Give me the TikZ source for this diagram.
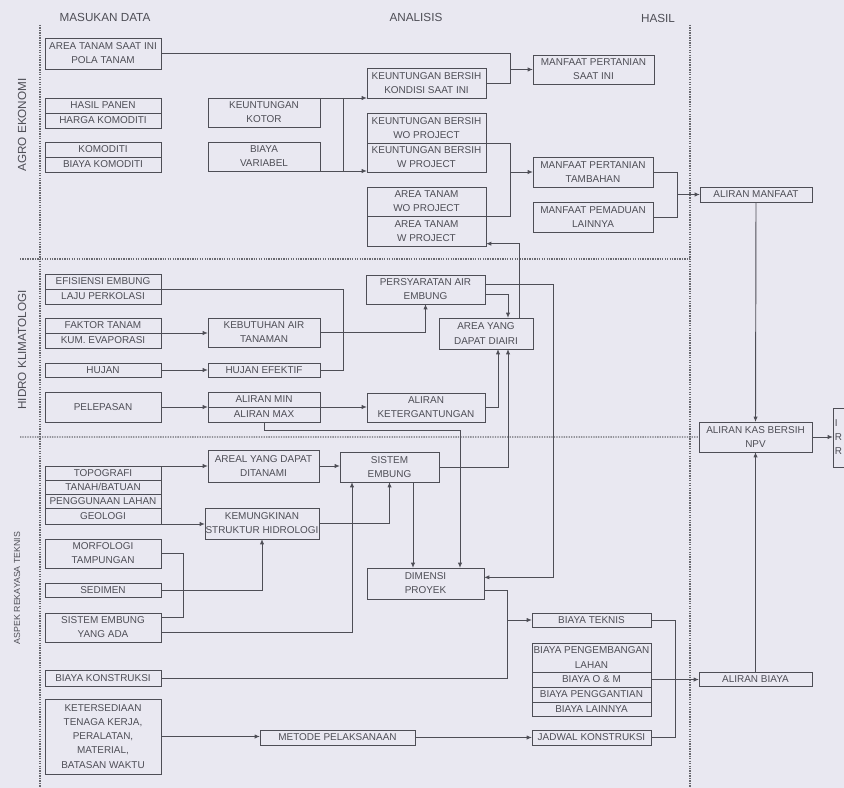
\documentclass[tikz,border=0pt]{standalone}
\usepackage{fontspec}
\setmainfont{Liberation Sans}
\usetikzlibrary{arrows.meta,positioning}
\definecolor{paper}{RGB}{233,232,241}
\definecolor{ink}{RGB}{78,78,86}
\tikzstyle{databox}=[draw=ink, text=ink, inner sep=0pt, outer sep=0pt, anchor=north west, align=center, font=\fontsize{8.5}{12}\selectfont]
\tikzstyle{flow}=[-{Latex[length=4.5pt,width=3.6pt]}]
\tikzstyle{zone}=[draw=ink!85, densely dotted, line width=1.1pt]
\tikzstyle{headtext}=[text=ink, font=\fontsize{10}{12}\selectfont]
\tikzstyle{sidetext}=[text=ink, rotate=90, font=\fontsize{10}{12}\selectfont]

\begin{document}
\begin{tikzpicture}[x=0.03cm, y=-0.03cm, line width=0.8pt, color=ink]
\clip (0,0) rectangle (844,788);
\fill[paper] (0,0) rectangle (844,788);

\node[headtext] (hdata) at (105,17) {MASUKAN DATA};
\node[headtext] (hanalisis) at (416,17) {ANALISIS};
\node[headtext] (hhasil) at (658,18) {HASIL};
\node[sidetext] (sagro) at (22,125) {AGRO EKONOMI};
\node[sidetext] (shidro) at (22,350) {HIDRO KLIMATOLOGI};
\node[sidetext, font=\fontsize{7.5}{9}\selectfont] (steknis) at (17,588) {ASPEK REKAYASA TEKNIS};

\node[databox, minimum width=3.48cm, minimum height=0.93cm] (areasaat) at (45,38) {AREA TANAM SAAT INI\\POLA TANAM};
\node[databox, minimum width=3.48cm, minimum height=0.45cm] (hasilpanen) at (45,98) {HASIL PANEN};
\node[databox, minimum width=3.48cm, minimum height=0.45cm, below=0pt of hasilpanen] (hargakom) {HARGA KOMODITI};
\node[databox, minimum width=3.48cm, minimum height=0.45cm] (komoditi) at (45,142) {KOMODITI};
\node[databox, minimum width=3.48cm, minimum height=0.45cm, below=0pt of komoditi] (biayakom) {BIAYA KOMODITI};
\node[databox, minimum width=3.36cm, minimum height=0.87cm] (kotor) at (208,98) {KEUNTUNGAN\\KOTOR};
\node[databox, minimum width=3.36cm, minimum height=0.87cm] (variabel) at (208,142) {BIAYA\\VARIABEL};
\node[databox, minimum width=3.57cm, minimum height=0.9cm] (kbsaat) at (367,68) {KEUNTUNGAN BERSIH\\KONDISI SAAT INI};
\node[databox, minimum width=3.57cm, minimum height=0.9cm] (kbwo) at (367,113) {KEUNTUNGAN BERSIH\\WO PROJECT};
\node[databox, minimum width=3.57cm, minimum height=0.87cm, below=0pt of kbwo] (kbw) {KEUNTUNGAN BERSIH\\W PROJECT};
\node[databox, minimum width=3.57cm, minimum height=0.87cm] (atwo) at (367,187) {AREA TANAM\\WO PROJECT};
\node[databox, minimum width=3.57cm, minimum height=0.9cm, below=0pt of atwo] (atw) {AREA TANAM\\W PROJECT};
\node[databox, minimum width=3.63cm, minimum height=0.87cm] (mpsaat) at (533,55) {MANFAAT PERTANIAN\\SAAT INI};
\node[databox, minimum width=3.6cm, minimum height=0.9cm] (mptambah) at (533,157) {MANFAAT PERTANIAN\\TAMBAHAN};
\node[databox, minimum width=3.6cm, minimum height=0.9cm] (mplain) at (533,202) {MANFAAT PEMADUAN\\LAINNYA};
\node[databox, minimum width=3.36cm, minimum height=0.45cm] (alman) at (700,187) {ALIRAN MANFAAT};

\node[databox, minimum width=3.48cm, minimum height=0.45cm] (efisiensi) at (45,274) {EFISIENSI EMBUNG};
\node[databox, minimum width=3.48cm, minimum height=0.45cm, below=0pt of efisiensi] (perkolasi) {LAJU PERKOLASI};
\node[databox, minimum width=3.48cm, minimum height=0.45cm] (faktor) at (45,318) {FAKTOR TANAM};
\node[databox, minimum width=3.48cm, minimum height=0.45cm, below=0pt of faktor] (evaporasi) {KUM. EVAPORASI};
\node[databox, minimum width=3.48cm, minimum height=0.42cm] (hujan) at (45,363) {HUJAN};
\node[databox, minimum width=3.48cm, minimum height=0.9cm] (pelepasan) at (45,392) {PELEPASAN};
\node[databox, minimum width=3.36cm, minimum height=0.87cm] (kebutuhan) at (208,318) {KEBUTUHAN AIR\\TANAMAN};
\node[databox, minimum width=3.36cm, minimum height=0.42cm] (hujanef) at (208,363) {HUJAN EFEKTIF};
\node[databox, minimum width=3.36cm, minimum height=0.45cm] (alirmin) at (208,392) {ALIRAN MIN};
\node[databox, minimum width=3.36cm, minimum height=0.45cm, below=0pt of alirmin] (alirmax) {ALIRAN MAX};
\node[databox, minimum width=3.57cm, minimum height=0.87cm] (persyaratan) at (366,275) {PERSYARATAN AIR\\EMBUNG};
\node[databox, minimum width=2.82cm, minimum height=0.93cm] (diairi) at (439,318) {AREA YANG\\DAPAT DIAIRI};
\node[databox, minimum width=3.54cm, minimum height=0.87cm] (ketergantungan) at (367,393) {ALIRAN\\KETERGANTUNGAN};
\node[databox, minimum width=3.39cm, minimum height=0.9cm] (alkas) at (699,422) {ALIRAN KAS BERSIH\\NPV};
\node[databox, align=left, text width=1.5cm, inner xsep=1.5pt, minimum height=1.77cm] (npv) at (833,408) {I\\R\\R};

\node[databox, minimum width=3.48cm, minimum height=0.42cm] (topografi) at (45,466) {TOPOGRAFI};
\node[databox, minimum width=3.48cm, minimum height=0.42cm, below=0pt of topografi] (tanah) {TANAH/BATUAN};
\node[databox, minimum width=3.48cm, minimum height=0.42cm, below=0pt of tanah] (lahan) {PENGGUNAAN LAHAN};
\node[databox, minimum width=3.48cm, minimum height=0.48cm, below=0pt of lahan] (geologi) {GEOLOGI};
\node[databox, minimum width=3.48cm, minimum height=0.87cm] (morfologi) at (45,539) {MORFOLOGI\\TAMPUNGAN};
\node[databox, minimum width=3.48cm, minimum height=0.42cm] (sedimen) at (45,583) {SEDIMEN};
\node[databox, minimum width=3.48cm, minimum height=0.87cm] (embungada) at (45,613) {SISTEM EMBUNG\\YANG ADA};
\node[databox, minimum width=3.48cm, minimum height=0.48cm] (biayakons) at (45,670) {BIAYA KONSTRUKSI};
\node[databox, minimum width=3.48cm, minimum height=2.25cm] (ketersediaan) at (45,699) {KETERSEDIAAN\\TENAGA KERJA,\\PERALATAN,\\MATERIAL,\\BATASAN WAKTU};
\node[databox, minimum width=3.33cm, minimum height=0.96cm] (areal) at (208,450) {AREAL YANG DAPAT\\DITANAMI};
\node[databox, minimum width=3.42cm, minimum height=0.93cm] (kemungkinan) at (205,508) {KEMUNGKINAN\\STRUKTUR HIDROLOGI};
\node[databox, minimum width=2.97cm, minimum height=0.9cm] (sistem) at (340,452) {SISTEM\\EMBUNG};
\node[databox, minimum width=3.51cm, minimum height=0.93cm] (dimensi) at (367,568) {DIMENSI\\PROYEK};
\node[databox, minimum width=4.65cm, minimum height=0.45cm] (metode) at (260,730) {METODE PELAKSANAAN};
\node[databox, minimum width=3.57cm, minimum height=0.42cm] (biayatek) at (532,613) {BIAYA TEKNIS};
\node[databox, minimum width=3.57cm, minimum height=0.87cm] (bpl) at (532,643) {BIAYA PENGEMBANGAN\\LAHAN};
\node[databox, minimum width=3.57cm, minimum height=0.45cm, below=0pt of bpl] (bom) {BIAYA O \& M};
\node[databox, minimum width=3.57cm, minimum height=0.45cm, below=0pt of bom] (bpg) {BIAYA PENGGANTIAN};
\node[databox, minimum width=3.57cm, minimum height=0.42cm, below=0pt of bpg] (blain) {BIAYA LAINNYA};
\node[databox, minimum width=3.57cm, minimum height=0.45cm] (jadwal) at (532,730) {JADWAL KONSTRUKSI};
\node[databox, minimum width=3.39cm, minimum height=0.42cm] (albiaya) at (699,672) {ALIRAN BIAYA};

\coordinate (xsaat) at (510,0);
\coordinate (xkb) at (343,0);
\coordinate (xman) at (677,0);
\coordinate (xdiairi) at (508,0);
\coordinate (xkt) at (498,0);
\coordinate (xat) at (519,0);
\coordinate (xsyarat) at (553,0);
\coordinate (bmax) at (460,430);
\coordinate (xmorf) at (183,0);
\coordinate (xada) at (352,0);
\coordinate (xdim) at (413,0);
\coordinate (xbiaya) at (507,0);
\coordinate (xjadwal) at (675,0);

\draw[zone] (40,25) -- (40,788);
\draw[zone] (690,25) -- (690,788);
\draw[zone] (20,259) -- (690,259);
\draw[zone] (20,437) -- (alkas.west);

\draw (areasaat.east) -| (xsaat |- kbsaat.east) -- (kbsaat.east);
\draw[flow] (xsaat |- mpsaat.west) -- (mpsaat.west);
\draw[flow] (kotor.north east) -- (kbsaat.west |- kotor.north east);
\draw[flow] (variabel.south east) -- (kbw.west |- variabel.south east);
\draw (xkb |- kotor.north) -- (xkb |- variabel.south);
\draw (kbw.north east) -| (xsaat |- atw.north east) -- (atw.north east);
\draw[flow] (xsaat |- mptambah.west) -- (mptambah.west);
\draw (mptambah.east) -| (xman |- mplain.east) -- (mplain.east);
\draw[flow] (xman |- alman.west) -- (alman.west);
\draw[flow] (alman.south) -- (alkas.north);
\draw[flow] (albiaya.north) -- (alkas.south);
\draw[flow] (alkas.east) -- (npv.west |- alkas.east);

\draw (efisiensi.south east) -| (xkb |- hujanef.east) -- (hujanef.east);
\draw[flow] (faktor.south east) -- (kebutuhan.west |- faktor.south east);
\draw[flow] (kebutuhan.east) -| (persyaratan.south);
\draw[flow] (hujan.east) -- (hujanef.west);
\draw[flow] (pelepasan.east) -- (alirmin.west |- pelepasan.east);
\draw[flow] (alirmin.south east) -- (ketergantungan.west |- alirmin.south east);
\draw[flow] (alirmax.south) |- (bmax) -- (bmax |- dimensi.north);
\draw[flow] (persyaratan.-5) -| (xdiairi |- diairi.north);
\draw[flow] (persyaratan.5) -| (xsyarat |- dimensi.6) -- (dimensi.6);
\draw[flow] (ketergantungan.east) -| (xkt |- diairi.south);
\draw[flow] (sistem.east) -| (xdiairi |- diairi.south);
\draw[flow] (xat |- diairi.north) |- (atw.-12);

\draw[flow] (topografi.north east) -- (areal.west |- topografi.north east);
\draw[flow] (geologi.south east) -- (kemungkinan.west |- geologi.south east);
\draw[flow] (areal.east) -- (sistem.west |- areal.east);
\draw[flow] (kemungkinan.east) -| (sistem.south);
\draw[flow] (sedimen.east) -| (kemungkinan.south);
\draw (morfologi.east) -| (xmorf |- embungada.10) -- (embungada.10);
\draw[flow] (embungada.-5) -| (xada |- sistem.south);
\draw[flow] (xdim |- sistem.south) -- (xdim |- dimensi.north);
\draw (dimensi.-7) -| (xbiaya |- biayakons.east) -- (biayakons.east);
\draw[flow] (xbiaya |- biayatek.west) -- (biayatek.west);
\draw[flow] (ketersediaan.east) -- (metode.west |- ketersediaan.east);
\draw[flow] (metode.east) -- (jadwal.west);
\draw (biayatek.east) -| (xjadwal |- jadwal.east) -- (jadwal.east);
\draw[flow] (bom.east) -- (albiaya.west |- bom.east);
\end{tikzpicture}
\end{document}
